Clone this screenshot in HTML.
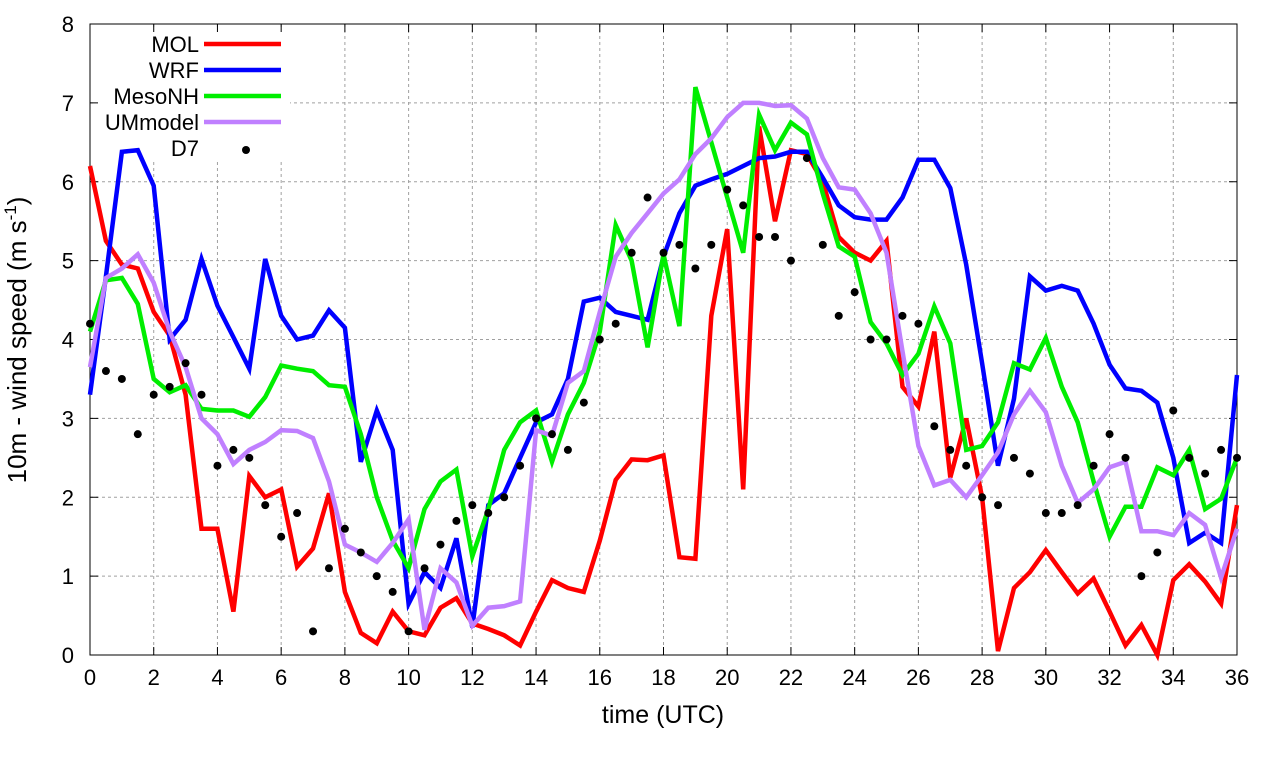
<!DOCTYPE html>
<html><head><meta charset="utf-8"><style>
body{margin:0;background:#fff}
svg text{font-family:"Liberation Sans",sans-serif;fill:#000}
</style></head><body>
<svg id="chart" width="1280" height="760" xmlns="http://www.w3.org/2000/svg">
<g id="grid"></g>
<g id="axes"></g>
<g id="series"></g>
<g id="legend"></g>
<text x="663" y="723" font-size="25" text-anchor="middle">time (UTC)</text>
<text transform="translate(26,340) rotate(-90)" font-size="26" text-anchor="middle">10m - wind speed  (m s<tspan font-size="17" dy="-10">-1</tspan><tspan dy="10">)</tspan></text>
</svg>
<script>
const xTicks=[0,2,4,6,8,10,12,14,16,18,20,22,24,26,28,30,32,34,36];
const yTicks=[0,1,2,3,4,5,6,7,8];
const seriesNames=["MOL","WRF","MesoNH","UMmodel"];
const seriesColors=["#ff0000","#0000ff","#00ee00","#c080ff"];
const mol=[6.2,5.25,4.95,4.9,4.35,4.05,3.3,1.6,1.6,0.55,2.27,2.0,2.1,1.12,1.35,2.05,0.8,0.28,0.15,0.55,0.3,0.25,0.6,0.72,0.4,0.33,0.25,0.12,0.55,0.95,0.85,0.8,1.45,2.22,2.48,2.47,2.53,1.24,1.22,4.3,5.4,2.1,6.7,5.5,6.4,6.35,6.0,5.3,5.1,5.0,5.25,3.4,3.15,4.1,2.25,3.0,2.0,0.05,0.85,1.05,1.33,1.05,0.78,0.97,0.55,0.12,0.38,0.0,0.95,1.15,0.93,0.65,1.9];
const wrf=[3.3,4.8,6.38,6.4,5.95,4.0,4.25,5.02,4.43,4.03,3.63,5.02,4.3,4.0,4.05,4.37,4.15,2.45,3.1,2.6,0.65,1.05,0.85,1.48,0.35,1.9,2.05,2.5,2.95,3.05,3.5,4.48,4.53,4.35,4.3,4.25,5.05,5.6,5.95,6.03,6.1,6.2,6.3,6.32,6.38,6.38,6.05,5.7,5.55,5.52,5.52,5.8,6.28,6.28,5.92,4.95,3.7,2.4,3.25,4.8,4.62,4.68,4.62,4.2,3.68,3.38,3.35,3.2,2.5,1.42,1.55,1.42,3.55];
const mesonh=[4.1,4.75,4.78,4.45,3.5,3.33,3.42,3.12,3.1,3.1,3.02,3.27,3.67,3.63,3.6,3.42,3.4,2.8,2.0,1.45,1.1,1.85,2.2,2.35,1.25,1.85,2.6,2.95,3.1,2.45,3.05,3.45,4.1,5.45,5.0,3.9,5.08,4.17,7.2,6.5,5.8,5.1,6.85,6.4,6.75,6.6,5.85,5.18,5.05,4.22,3.95,3.55,3.82,4.42,3.95,2.6,2.65,2.95,3.7,3.62,4.02,3.4,2.95,2.2,1.5,1.88,1.88,2.38,2.28,2.6,1.85,1.98,2.5];
const um=[3.65,4.78,4.9,5.08,4.72,4.1,3.65,3.0,2.8,2.42,2.6,2.7,2.85,2.84,2.75,2.2,1.4,1.3,1.18,1.42,1.72,0.32,1.1,0.92,0.37,0.6,0.62,0.68,2.85,2.78,3.45,3.6,4.35,5.05,5.35,5.6,5.85,6.03,6.35,6.55,6.82,7.0,7.0,6.96,6.97,6.8,6.3,5.93,5.9,5.6,5.1,3.85,2.65,2.15,2.22,2.0,2.28,2.57,3.05,3.35,3.08,2.4,1.93,2.1,2.38,2.45,1.57,1.57,1.52,1.8,1.65,0.98,1.6];
const d7=[4.2,3.6,3.5,2.8,3.3,3.4,3.7,3.3,2.4,2.6,2.5,1.9,1.5,1.8,0.3,1.1,1.6,1.3,1.0,0.8,0.3,1.1,1.4,1.7,1.9,1.8,2.0,2.4,3.0,2.8,2.6,3.2,4.0,4.2,5.1,5.8,5.1,5.2,4.9,5.2,5.9,5.7,5.3,5.3,5.0,6.3,5.2,4.3,4.6,4.0,4.0,4.3,4.2,2.9,2.6,2.4,2.0,1.9,2.5,2.3,1.8,1.8,1.9,2.4,2.8,2.5,1.0,1.3,3.1,2.5,2.3,2.6,2.5];
const timeStep=0.5;

const NS="http://www.w3.org/2000/svg";
const L=90,R=1237,T=24,B=655;
function xs(t){return L+(t/36)*(R-L);}
function ys(v){return B-(v/8)*(B-T);}
function mk(tag,attrs,parent){const e=document.createElementNS(NS,tag);for(const k in attrs)e.setAttribute(k,attrs[k]);parent.appendChild(e);return e;}
const grid=document.getElementById('grid'),axes=document.getElementById('axes'),ser=document.getElementById('series'),leg=document.getElementById('legend');
xTicks.forEach(t=>{
  const x=xs(t);
  if(t>0&&t<36){const g=mk('line',{x1:x,x2:x,y1:T,y2:B,stroke:'#a0a0a0','stroke-width':1,'stroke-dasharray':'3,3'},grid);
  
  }
  mk('line',{x1:x,x2:x,y1:B,y2:B-8,stroke:'#000'},axes);
  mk('line',{x1:x,x2:x,y1:T,y2:T+8,stroke:'#000'},axes);
  const tx=mk('text',{x:x,y:B+30,'font-size':22,'text-anchor':'middle'},axes);tx.textContent=t;
  
  
});
yTicks.forEach(v=>{
  const y=ys(v);
  if(v>0&&v<8){const g=mk('line',{x1:L,x2:R,y1:y,y2:y,stroke:'#a0a0a0','stroke-width':1,'stroke-dasharray':'3,3'},grid);
  
  }
  mk('line',{x1:L,x2:L+8,y1:y,y2:y,stroke:'#000'},axes);
  mk('line',{x1:R,x2:R-8,y1:y,y2:y,stroke:'#000'},axes);
  const tx=mk('text',{x:L-16,y:y+8,'font-size':22,'text-anchor':'end'},axes);tx.textContent=v;
  
  
});
mk('rect',{x:95,y:28,width:195,height:132,fill:'#fff'},grid);
const all=[mol,wrf,mesonh,um];
all.forEach((arr,i)=>{
  const pts=arr.map((v,j)=>xs(j*timeStep).toFixed(1)+','+ys(v).toFixed(1)).join(' ');
  const p=mk('polyline',{points:pts,fill:'none',stroke:seriesColors[i],'stroke-width':4.5,'stroke-linejoin':'miter'},ser);
  
  
});
d7.forEach((v,j)=>{
  const c=mk('circle',{cx:xs(j*timeStep),cy:ys(v),r:4,fill:'#000'},ser);
  
  
});
mk('rect',{x:L,y:T,width:R-L,height:B-T,fill:'none',stroke:'#000','stroke-width':1},axes);
const legNames=["MOL","WRF","MesoNH","UMmodel","D7"];
legNames.forEach((n,i)=>{
  const y=44+i*26;
  const t=mk('text',{x:199,y:y+8,'font-size':22,'text-anchor':'end'},leg);t.textContent=n;
  
  
  if(i<4){const l=mk('line',{x1:204,x2:281,y1:y,y2:y,stroke:seriesColors[i],'stroke-width':4.5},leg);
    
    }
  else{const c=mk('circle',{cx:246,cy:y+2,r:4,fill:'#000'},leg);
    
    }
});
</script>
</body></html>
